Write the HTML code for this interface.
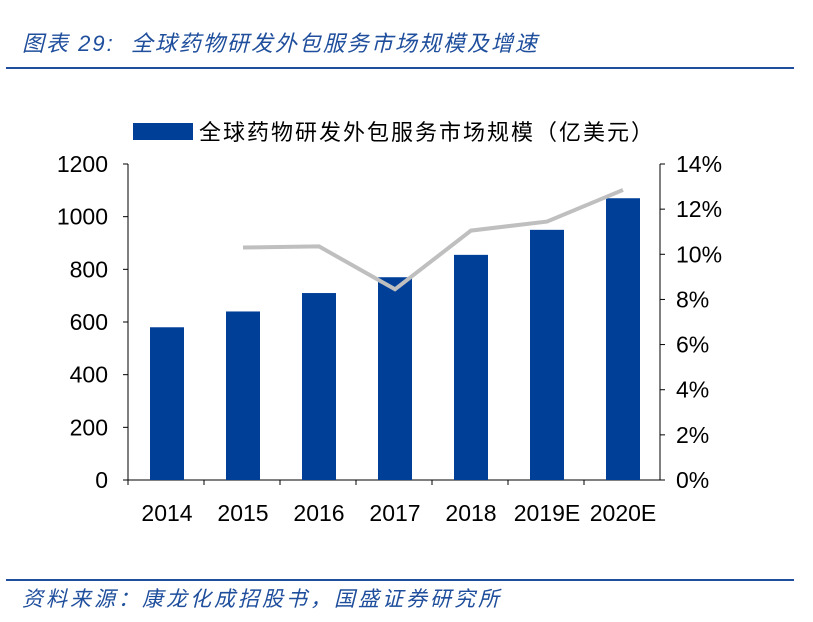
<!DOCTYPE html>
<html><head><meta charset="utf-8"><style>
body{margin:0;width:813px;height:622px;background:#fff;overflow:hidden;font-family:"Liberation Sans","Noto Sans CJK SC",sans-serif;}
.t{position:absolute;font-style:italic;color:#1f4e9c;white-space:nowrap;}
</style></head><body>
<div class="t" style="left:22px;top:26px;font-size:22px;letter-spacing:2px;">图表 29:&nbsp; 全球药物研发外包服务市场规模及增速</div>
<div style="position:absolute;left:6px;top:67px;width:788px;height:2px;background:#1f4e9c"></div>
<div style="position:absolute;left:6px;top:579px;width:788px;height:2px;background:#1f4e9c"></div>
<div class="t" style="left:22px;top:583px;font-size:21px;letter-spacing:3px;">资料来源：康龙化成招股书，国盛证券研究所</div>
<svg id="c" width="813" height="622" style="position:absolute;left:0;top:0"></svg>
<script>
const categories=["2014","2015","2016","2017","2018","2019E","2020E"];
const marketSize=[580,640,710,770,855,950,1070];
const growth=[null,10.3,10.35,8.45,11.05,11.45,12.85];
const leftTicks=[0,200,400,600,800,1000,1200];
const rightTicks=[0,2,4,6,8,10,12,14];
const svg=document.getElementById('c');const NS='http://www.w3.org/2000/svg';
function mk(t,a,p){const e=document.createElementNS(NS,t);for(const k in a)e.setAttribute(k,a[k]);(p||svg).appendChild(e);return e;}
const x0=128,x1=660,y0=480,y1=164;
const band=(x1-x0)/categories.length;
const xc=i=>x0+band*(i+0.5);
const yL=v=>y0-(v/1200)*(y0-y1);
const yR=v=>y0-(v/14)*(y0-y1);
let e=mk('line',{x1:x0,y1:y1,x2:x0,y2:y0,stroke:'#000','stroke-width':1});

e=mk('line',{x1:x1,y1:y1,x2:x1,y2:y0,stroke:'#000','stroke-width':1});

e=mk('line',{x1:x0,y1:y0,x2:x1,y2:y0,stroke:'#000','stroke-width':1});

leftTicks.forEach(v=>{const y=yL(v);
 mk('line',{x1:x0-5,y1:y,x2:x0,y2:y,stroke:'#000'});
 const t=mk('text',{x:x0-20,y:y+8,'text-anchor':'end','font-size':23,fill:'#000'});t.textContent=v;
 });
rightTicks.forEach(v=>{const y=yR(v);
 mk('line',{x1:x1,y1:y,x2:x1+5,y2:y,stroke:'#000'});
 const t=mk('text',{x:x1+16,y:y+8,'font-size':23,fill:'#000'});t.textContent=v+'%';
 });
categories.forEach((c,i)=>{
 mk('line',{x1:x0+band*i,y1:y0,x2:x0+band*i,y2:y0+5,stroke:'#000'});
 const b=mk('rect',{x:xc(i)-16,y:yL(marketSize[i]),width:34,height:y0-yL(marketSize[i]),fill:'#003f98'});
 
 const t=mk('text',{x:xc(i)+1,y:521,'text-anchor':'middle','font-size':23,fill:'#000'});t.textContent=c;
 });
let pts=[];growth.forEach((g,i)=>{if(g!=null)pts.push((xc(i)+1)+','+yR(g));});
e=mk('polyline',{points:pts.join(' '),fill:'none',stroke:'#bfbfbf','stroke-width':4});

e=mk('rect',{x:133,y:123,width:60,height:17,fill:'#003f98'});

e=mk('text',{x:199,y:140,'font-size':22,'letter-spacing':2,fill:'#000'});e.textContent='全球药物研发外包服务市场规模（亿美元）';

</script>
</body></html>
